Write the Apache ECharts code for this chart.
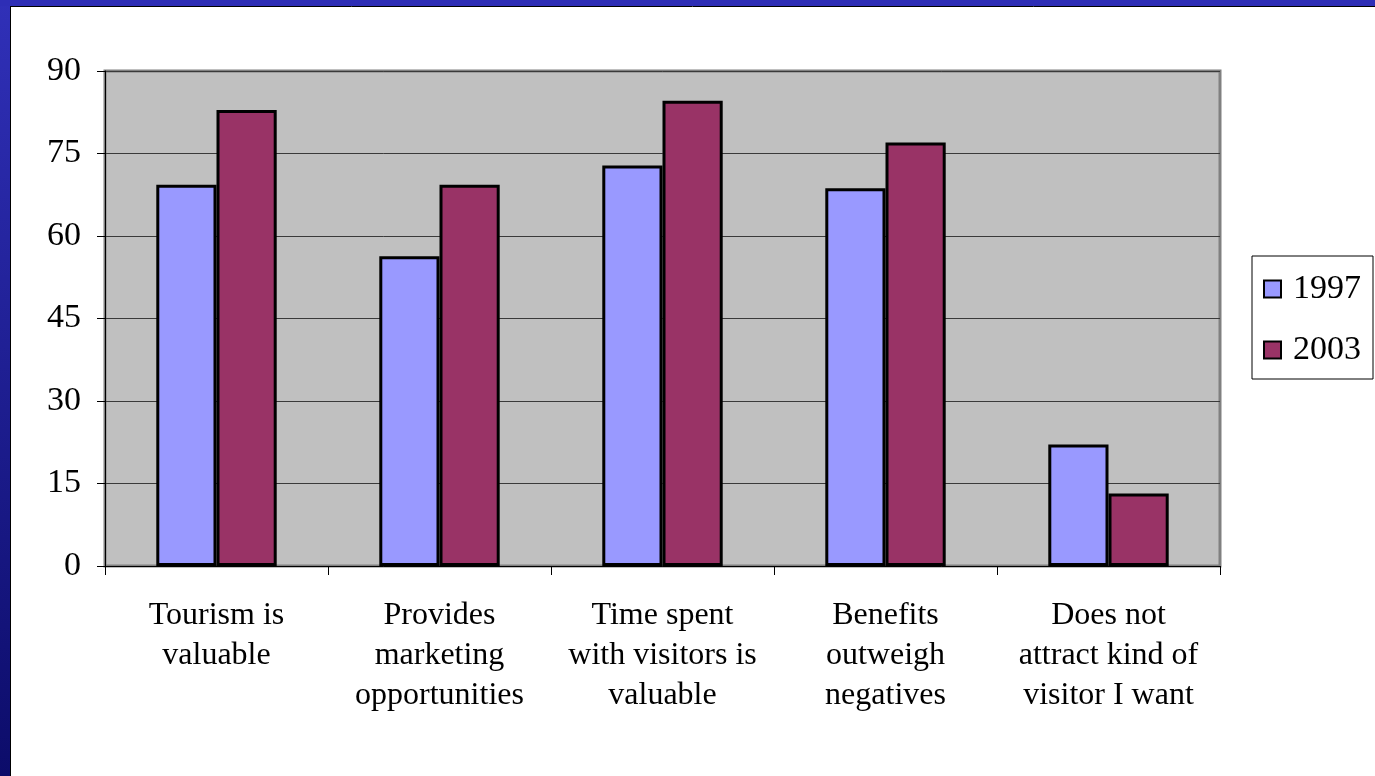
<!DOCTYPE html>
<html>
<head>
<meta charset="utf-8">
<script src="https://cdn.jsdelivr.net/npm/echarts@6/dist/echarts.min.js"></script>
<style>
html,body{margin:0;padding:0;background:#fff;}
#c{width:1375px;height:776px;}
</style>
</head>
<body>
<div id="c"></div>
<script>
const categories = ['Tourism is\nvaluable', 'Provides\nmarketing\nopportunities', 'Time spent\nwith visitors is\nvaluable', 'Benefits\noutweigh\nnegatives', 'Does not\nattract kind of\nvisitor I want'];
const seriesNames = ['1997', '2003'];
const values1997 = [69.3, 56.3, 72.8, 68.7, 22.1];
const values2003 = [82.9, 69.3, 84.6, 77.0, 13.2];
const yTicks = [0, 15, 30, 45, 60, 75, 90];

const font = '"Liberation Serif", "Times New Roman", serif';
const chart = echarts.init(document.getElementById('c'), null, {renderer: 'canvas'});
chart.setOption({
  animation: false,
  backgroundColor: '#ffffff',
  textStyle: {fontFamily: font},
  graphic: [
    {type: 'rect', left: 0, top: 0, shape: {width: 10, height: 776}, style: {fill: new echarts.graphic.LinearGradient(0, 0, 0, 1, [{offset: 0, color: '#3030b8'}, {offset: 1, color: '#0c0c6a'}])}, z: 10},
    {type: 'rect', left: 0, top: 0, shape: {width: 1375, height: 6}, style: {fill: '#2e2eb6'}, z: 10},
    {type: 'line', shape: {x1: 10.5, y1: 6, x2: 10.5, y2: 776}, style: {stroke: '#000', lineWidth: 1}, z: 11},
    {type: 'line', shape: {x1: 10, y1: 6.5, x2: 1375, y2: 6.5}, style: {stroke: '#000', lineWidth: 1}, z: 11}
  ],
  grid: {
    left: 105, right: 155, top: 71, bottom: 210,
    show: true, backgroundColor: '#c0c0c0', borderColor: '#808080', borderWidth: 3
  },
  legend: {
    data: seriesNames,
    orient: 'vertical',
    left: 1252, top: 256,
    backgroundColor: '#fff',
    borderColor: '#000', borderWidth: 1,
    padding: [16, 12, 12, 11],
    itemWidth: 17, itemHeight: 17, itemGap: 27,
    icon: 'rect',
    textStyle: {fontFamily: font, fontSize: 34, color: '#000', padding: [0, 0, 0, 7]}
  },
  xAxis: {
    type: 'category',
    data: categories,
    axisLine: {lineStyle: {color: '#000', width: 1}},
    axisTick: {show: true, length: 9, lineStyle: {color: '#000'}},
    axisLabel: {fontFamily: font, fontSize: 32, color: '#000', lineHeight: 40, margin: 30, interval: 0}
  },
  yAxis: {
    type: 'value', min: 0, max: 90, interval: 15,
    axisLine: {show: true, lineStyle: {color: '#000', width: 1}},
    axisTick: {show: true, length: 8, lineStyle: {color: '#000'}},
    splitLine: {lineStyle: {color: '#3a3a3a', width: 1}},
    axisLabel: {fontFamily: font, fontSize: 34, color: '#000', margin: 24,
      formatter: v => yTicks.includes(v) ? String(v) : ''}
  },
  series: [
    {name: seriesNames[0], type: 'bar', data: values1997, barGap: '0%', barCategoryGap: '46%',
     itemStyle: {color: '#9999ff', borderColor: '#000', borderWidth: 3}},
    {name: seriesNames[1], type: 'bar', data: values2003, barGap: '0%', barCategoryGap: '46%',
     itemStyle: {color: '#993366', borderColor: '#000', borderWidth: 3}}
  ]
});
</script>
</body>
</html>
